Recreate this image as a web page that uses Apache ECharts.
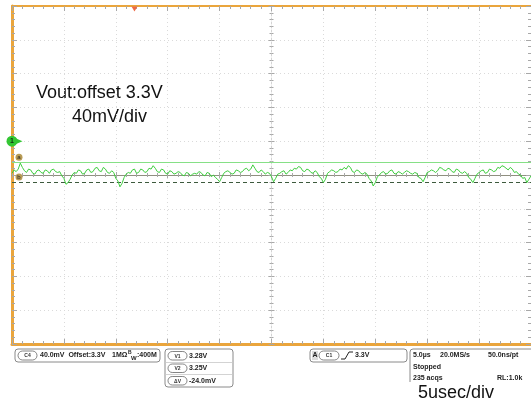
<!DOCTYPE html>
<html><head><meta charset="utf-8">
<script src="https://cdn.jsdelivr.net/npm/echarts@6/dist/echarts.min.js"></script>
<style>html,body{margin:0;padding:0;background:#fff}#c{width:531px;height:405px}</style>
</head><body><div id="c"></div>
<script>
// ---- data ----
const timeRange = [-25, 25];      // µs, 5 µs/div, 10 divisions
const timeInterval = 5;
const voltRange = [-200, 200];    // mV around the 3.3 V offset, 40 mV/div
const voltInterval = 40;
const sampleStep = 0.2;           // µs between the samples below
const traceMv = [
  2,6,4,7,14,9,5,3,7,6,2,1,5,6,3,2,6,5,2,6,
  7,4,3,4,-1,-4,-11,-9,-5,0,3,2,6,5,1,2,6,7,3,4,
  8,9,5,4,9,7,3,2,5,3,-4,-7,-14,-10,-3,1,3,2,6,7,
  2,3,7,6,3,4,8,7,11,8,4,3,7,6,2,1,5,4,1,2,
  4,3,0,-1,3,2,-1,1,2,1,4,3,0,-1,3,2,-2,0,-3,-5,
  -8,-3,2,4,5,3,1,2,6,5,3,4,7,8,5,7,12,8,4,3,
  6,4,1,3,2,-2,-8,-4,1,2,4,5,1,3,6,5,8,7,10,9,
  5,4,7,6,3,2,5,3,-2,-4,-9,-5,2,4,6,5,3,4,7,6,
  9,7,11,9,4,3,6,5,2,1,3,1,-4,-7,-13,-9,-2,0,3,4,
  1,2,5,6,2,1,4,3,1,3,5,4,2,1,3,2,-3,-4,-8,-3,
  3,4,6,5,3,5,9,8,6,5,8,7,4,3,7,6,3,2,4,2,
  -3,-5,-9,-4,1,3,5,6,2,3,7,6,4,5,9,8,11,10,8,6,
  9,7,3,4,1,0,-4,-3,-9,-5,-1
];
const cursorV1 = 15.4;            // solid cursor line (mV)
const cursorV2 = -8.6;            // dashed cursor line (mV)
const markerA = 21;
const markerB = -2.4;
const channelLevel = 40;
const triggerTime = -13.2;
const noteLines = ['Vout:offset 3.3V', '40mV/div'];
const timebaseNote = '5usec/div';
const chText = ['C4', '40.0mV  Offset:3.3V', '1MΩ', 'B', 'W', ':400M'];
const cursorRows = [['V1', '3.28V'], ['V2', '3.25V'], ['ΔV', '-24.0mV']];
const trigText = ['A', 'C1', '3.3V'];
const acqRows = [['5.0µs', '20.0MS/s', '50.0ns/pt'], ['Stopped', '', ''], ['235 acqs', '', 'RL:1.0k']];

// ---- chart ----
const ORANGE = '#eaa53c';
const TICK = '#a8a8a8';
const traceData = traceMv.map((v, i) => [timeRange[0] + i * sampleStep, v]);

function baseAxis(extra) {
  return Object.assign({
    type: 'value', axisLabel: {show: false}, splitLine: {show: false},
    axisTick: {show: true, inside: true, length: 5, lineStyle: {color: TICK, width: 1}},
    minorTick: {show: true, splitNumber: 5, length: 3, lineStyle: {color: TICK, width: 1}}
  }, extra);
}
const xBase = {min: timeRange[0], max: timeRange[1], interval: timeInterval};
const yBase = {min: voltRange[0], max: voltRange[1], interval: voltInterval};

const F = 'Liberation Sans, Arial, sans-serif';
const SF = 'bold 7px ' + F;
function pill(x, y, w, h, t) {
  return [
    {type: 'rect', shape: {x, y, width: w, height: h, r: h / 2}, style: {fill: '#fff', stroke: '#666', lineWidth: 0.8}},
    {type: 'text', x: x + w / 2, y: y + h / 2 + 0.5, style: {text: t, fill: '#333', font: 'bold 5px ' + F, align: 'center', verticalAlign: 'middle'}}
  ];
}
function txt(x, y, t, font, color, align) {
  return {type: 'text', x, y, style: {text: t, font: font || SF, fill: color || '#222', align: align || 'left', verticalAlign: 'middle'}};
}
const box = (x, y, w, h) => ({type: 'rect', shape: {x, y, width: w, height: h, r: 3}, style: {fill: '#fff', stroke: '#8a8a8a', lineWidth: 1}});
const hline = (x1, x2, y) => ({type: 'line', shape: {x1, y1: y, x2, y2: y}, style: {stroke: '#c8c8c8', lineWidth: 0.8}});

const graphics = [
  txt(36, 93, noteLines[0], '18px ' + F, '#111'),
  txt(72, 117, noteLines[1], '18px ' + F, '#111'),
  // channel box
  box(15, 349, 145, 13),
  ...pill(18, 351, 19, 9, chText[0]),
  txt(40, 355.5, chText[1]),
  txt(112, 355.5, chText[2]),
  txt(128, 352.5, chText[3], 'bold 5px ' + F),
  txt(131, 358, chText[4], 'bold 6px ' + F),
  txt(137, 355.5, chText[5]),
  // cursor box
  box(165, 349, 68, 38),
  hline(165, 233, 362.5), hline(165, 233, 374.5),
  ...pill(168, 351.5, 19, 8.5, cursorRows[0][0]), txt(189, 356, cursorRows[0][1]),
  ...pill(168, 364, 19, 8.5, cursorRows[1][0]), txt(189, 368.5, cursorRows[1][1]),
  ...pill(168, 376.5, 19, 8.5, cursorRows[2][0]), txt(189, 381, cursorRows[2][1]),
  // trigger box
  box(310, 349, 97, 13),
  {type: 'rect', shape: {x: 312, y: 351, width: 6, height: 9}, style: {fill: '#ddd'}},
  txt(315, 355.5, trigText[0], SF, '#222', 'center'),
  ...pill(319, 351, 20, 9, trigText[1]),
  {type: 'polyline', shape: {points: [[341, 359], [345, 359], [349, 352], [353, 352]]}, style: {stroke: '#222', lineWidth: 1, fill: null}},
  txt(355, 355.5, trigText[2]),
  // acquisition box
  box(410, 349, 130, 40),
  txt(413, 355.5, acqRows[0][0]), txt(440, 355.5, acqRows[0][1]), txt(488, 355.5, acqRows[0][2]),
  txt(413, 367, acqRows[1][0]),
  txt(413, 378.5, acqRows[2][0]), txt(497, 378.5, acqRows[2][2]),
  {type: 'rect', shape: {x: 405, y: 382, width: 126, height: 23}, style: {fill: '#fff'}},
  txt(418, 393, timebaseNote, '18px ' + F, '#111')
];

const chart = echarts.init(document.getElementById('c'), null, {renderer: 'canvas'});
chart.setOption({
  animation: false,
  backgroundColor: '#fff',
  grid: {left: 12, top: 6, width: 520, height: 338, containLabel: false},
  xAxis: [
    baseAxis(Object.assign({position: 'bottom', axisLine: {onZero: false, lineStyle: {color: ORANGE, width: 3}},
      splitLine: {show: true, lineStyle: {color: '#dadada', type: [1, 3], width: 1}}}, xBase)),
    baseAxis(Object.assign({position: 'top', axisLine: {onZero: false, lineStyle: {color: ORANGE, width: 2}}}, xBase)),
    baseAxis(Object.assign({position: 'bottom', axisLine: {onZero: true, onZeroAxisIndex: 0, lineStyle: {color: '#8f8f80', width: 1}},
      axisTick: {show: true, inside: true, length: 3, lineStyle: {color: TICK}}, minorTick: {show: true, splitNumber: 5, length: 2, lineStyle: {color: TICK}}}, xBase)),
    baseAxis(Object.assign({position: 'top', axisLine: {show: false, onZero: true, onZeroAxisIndex: 0},
      axisTick: {show: true, inside: true, length: 3, lineStyle: {color: TICK}}, minorTick: {show: true, splitNumber: 5, length: 2, lineStyle: {color: TICK}}}, xBase))
  ],
  yAxis: [
    baseAxis(Object.assign({position: 'left', axisLine: {onZero: false, lineStyle: {color: ORANGE, width: 3}},
      splitLine: {show: true, lineStyle: {color: '#dadada', type: [1, 3], width: 1}}}, yBase)),
    baseAxis(Object.assign({position: 'right', axisLine: {show: false, onZero: false}}, yBase)),
    baseAxis(Object.assign({position: 'left', axisLine: {show: true, onZero: true, onZeroAxisIndex: 0, lineStyle: {color: '#d4d4d4', type: [2, 2]}},
      axisTick: {show: true, inside: true, length: 3, lineStyle: {color: TICK}}, minorTick: {show: true, splitNumber: 5, length: 2, lineStyle: {color: TICK}}}, yBase)),
    baseAxis(Object.assign({position: 'right', axisLine: {show: false, onZero: true, onZeroAxisIndex: 0},
      axisTick: {show: true, inside: true, length: 3, lineStyle: {color: TICK}}, minorTick: {show: true, splitNumber: 5, length: 2, lineStyle: {color: TICK}}}, yBase))
  ],
  series: [
    {
      type: 'line', xAxisIndex: 0, yAxisIndex: 0, data: traceData, showSymbol: false, symbol: 'none',
      lineStyle: {color: '#3fcc3f', width: 1}, z: 5,
      markLine: {
        silent: true, symbol: 'none', label: {show: false},
        data: [
          {yAxis: cursorV1, lineStyle: {color: '#86e086', width: 1.2, type: 'solid'}},
          {yAxis: cursorV2, lineStyle: {color: '#3d5a3d', width: 1, type: [4, 3]}}
        ]
      },
      markPoint: {
        silent: true,
        data: [
          {coord: [timeRange[0], channelLevel], symbol: 'triangle', symbolRotate: -90, symbolSize: [6, 7], symbolOffset: [7, 0], itemStyle: {color: '#33c633'}, label: {show: false}},
          {coord: [timeRange[0], channelLevel], symbol: 'circle', symbolSize: 11, itemStyle: {color: '#33c633'}, label: {show: true, formatter: '1', position: 'inside', fontSize: 7, color: '#103010', fontWeight: 'bold'}},
          {coord: [timeRange[0], markerA], symbol: 'circle', symbolSize: 7, symbolOffset: [7, 0], itemStyle: {color: '#b89b55'}, label: {show: true, formatter: 'a', position: 'inside', fontSize: 6, color: '#222'}},
          {coord: [timeRange[0], markerB], symbol: 'circle', symbolSize: 7, symbolOffset: [7, 0], itemStyle: {color: '#b89b55'}, label: {show: true, formatter: 'b', position: 'inside', fontSize: 6, color: '#222'}},
          {coord: [triggerTime, voltRange[1]], symbol: 'triangle', symbolRotate: 180, symbolSize: [6, 5], symbolOffset: [0, 3], itemStyle: {color: '#ee6a45'}, label: {show: false}}
        ]
      }
    }
  ],
  graphic: graphics
});
</script>
</body></html>
